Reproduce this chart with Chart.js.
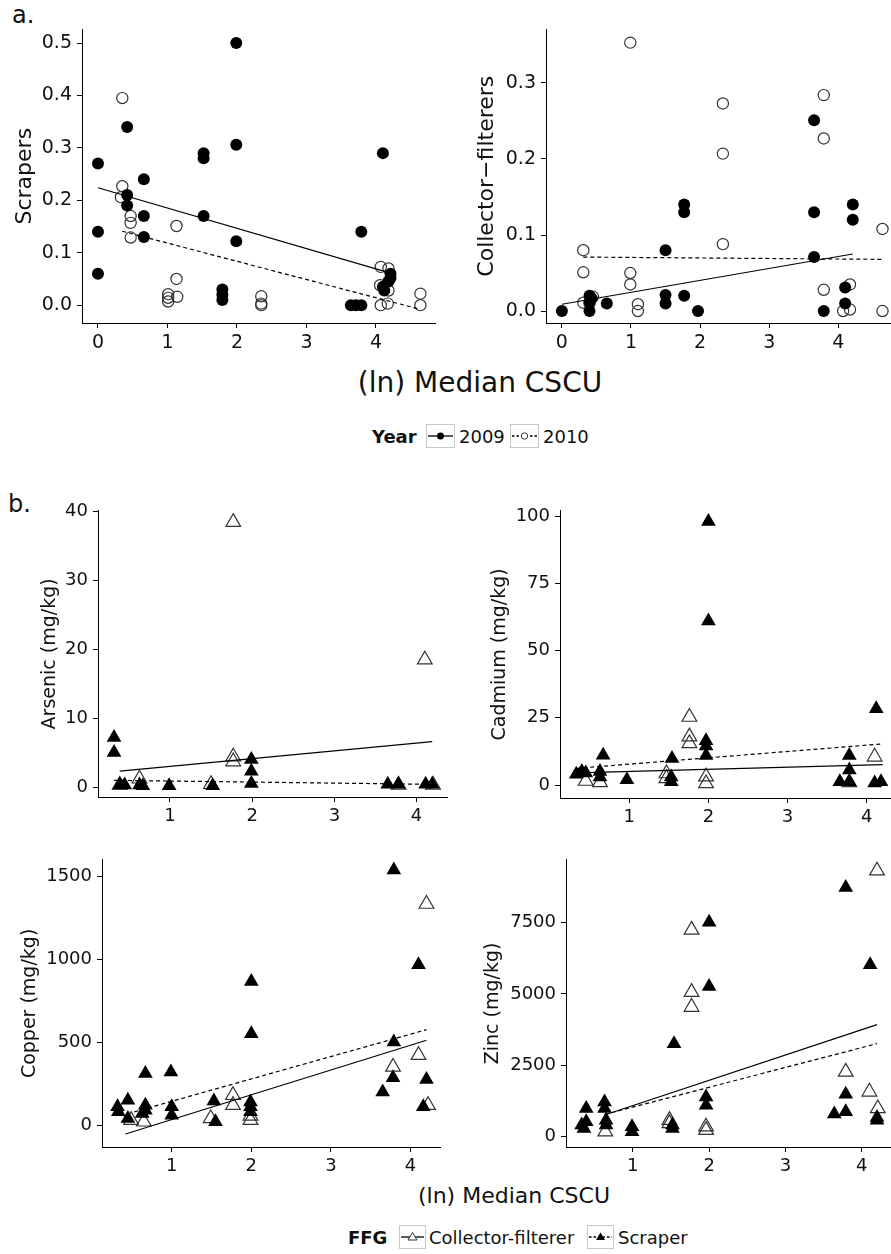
<!DOCTYPE html>
<html><head><meta charset="utf-8">
<script src="https://cdn.jsdelivr.net/npm/chart.js@4/dist/chart.umd.min.js"></script>
<style>
html,body{margin:0;padding:0;background:#fff;}
body{width:891px;height:1254px;position:relative;overflow:hidden;font-family:"DejaVu Sans",sans-serif;color:#111;}
.t{position:absolute;white-space:nowrap;line-height:1;}
.key{position:absolute;}
</style></head><body>
<div class="t" style="left:12px;top:3px;font-size:24px;">a.</div>
<div class="t" style="left:8px;top:492px;font-size:24px;">b.</div>
<div class="t" style="left:480px;top:383px;font-size:28px;transform:translate(-50%,-50%);">(ln) Median CSCU</div>
<div class="t" style="left:514px;top:1196px;font-size:22px;transform:translate(-50%,-50%);">(ln) Median CSCU</div>

<div class="t" style="left:372px;top:428px;font-size:18px;font-weight:bold;">Year</div>
<svg class="key" style="left:426px;top:424px" width="29" height="24"><rect x="0.5" y="0.5" width="28" height="23" fill="#fff" stroke="#c8c8c8"/><line x1="2" y1="12" x2="27" y2="12" stroke="#000" stroke-width="1.3"/><circle cx="14.5" cy="12" r="3.5" fill="#000"/></svg>
<div class="t" style="left:459px;top:428px;font-size:18px;">2009</div>
<svg class="key" style="left:510px;top:424px" width="29" height="24"><rect x="0.5" y="0.5" width="28" height="23" fill="#fff" stroke="#c8c8c8"/><line x1="2" y1="12" x2="27" y2="12" stroke="#000" stroke-width="1.3" stroke-dasharray="2.5,2"/><circle cx="14.5" cy="12" r="3.2" fill="#fff" stroke="#333" stroke-width="1"/></svg>
<div class="t" style="left:543px;top:428px;font-size:18px;">2010</div>

<div class="t" style="left:348px;top:1229px;font-size:18px;font-weight:bold;">FFG</div>
<svg class="key" style="left:399px;top:1225px" width="27" height="24"><rect x="0.5" y="0.5" width="26" height="23" fill="#fff" stroke="#c8c8c8"/><line x1="2" y1="12" x2="25" y2="12" stroke="#000" stroke-width="1.3"/><polygon points="13.5,7.5 18,15 9,15" fill="#fff" stroke="#333" stroke-width="1"/></svg>
<div class="t" style="left:429px;top:1229px;font-size:18px;">Collector-filterer</div>
<svg class="key" style="left:587px;top:1225px" width="27" height="24"><rect x="0.5" y="0.5" width="26" height="23" fill="#fff" stroke="#c8c8c8"/><line x1="2" y1="12" x2="25" y2="12" stroke="#000" stroke-width="1.3" stroke-dasharray="2.5,2"/><polygon points="13.5,7.5 18,15 9,15" fill="#000"/></svg>
<div class="t" style="left:618px;top:1229px;font-size:18px;">Scraper</div>

<script>
// ---------- Tick definitions ----------
const aXTicks = [0, 1, 2, 3, 4];
const aXLabels = ["0", "1", "2", "3", "4"];
const bXTicks = [1, 2, 3, 4];
const bXLabels = ["1", "2", "3", "4"];
const scrYTicks = [0, 0.1, 0.2, 0.3, 0.4, 0.5];
const scrYLabels = ["0.0", "0.1", "0.2", "0.3", "0.4", "0.5"];
const cfYTicks = [0, 0.1, 0.2, 0.3];
const cfYLabels = ["0.0", "0.1", "0.2", "0.3"];
const asYTicks = [0, 10, 20, 30, 40];
const cdYTicks = [0, 25, 50, 75, 100];
const cuYTicks = [0, 500, 1000, 1500];
const znYTicks = [0, 2500, 5000, 7500];

// ---------- Panel a: Scrapers ----------
const scr09x = [0,0,0, 0.42,0.42,0.42, 0.66,0.66,0.66, 1.52,1.52,1.52, 1.79,1.79,1.79, 1.99,1.99,1.99, 3.64,3.71,3.79, 3.79, 4.1,4.1,4.12, 4.21,4.21,4.18];
const scr09y = [0.27,0.14,0.06, 0.34,0.21,0.19, 0.24,0.17,0.13, 0.29,0.28,0.17, 0.03,0.02,0.01, 0.50,0.306,0.122, 0,0,0, 0.14, 0.29,0.035,0.028, 0.06,0.052,0.045];
const scr10x = [0.35,0.35,0.33, 0.47,0.47,0.47, 1.13,1.13,1.14, 1.01,1.01,1.01, 2.35,2.35,2.35, 4.07,4.18,4.06,4.18,4.07,4.17, 4.64,4.64];
const scr10y = [0.395,0.227,0.206, 0.17,0.157,0.129, 0.151,0.05,0.016, 0.021,0.014,0.007, 0.017,0.003,0, 0.073,0.07,0.038,0.028,0,0.003, 0.022,0];
const scrFit09x = [0, 4.21], scrFit09y = [0.224, 0.061];
const scrFit10x = [0.35, 4.64], scrFit10y = [0.141, -0.008];

// ---------- Panel a: Collector-filterers ----------
const cf09x = [0, 0.4,0.4,0.4,0.43, 0.65, 1.5,1.5,1.5, 1.77,1.77,1.77, 1.97, 3.65,3.65,3.65, 3.79, 4.1,4.1, 4.21,4.21];
const cf09y = [0, 0.02,0.012,0,0.017, 0.01, 0.08,0.021,0.01, 0.14,0.13,0.02, 0, 0.251,0.13,0.071, 0, 0.031,0.01, 0.14,0.12];
const cf10x = [0.31,0.31,0.31, 0.45,0.4, 0.99,0.99,0.99, 1.1,1.1, 2.33,2.33,2.33, 3.79,3.79,3.79, 4.07, 4.17,4.17, 4.64,4.64];
const cf10y = [0.08,0.051,0.011, 0.019,0.01, 0.353,0.05,0.035, 0.009,0, 0.273,0.207,0.088, 0.284,0.227,0.028, 0, 0.035,0.002, 0.108,0];
const cfFit09x = [0, 4.21], cfFit09y = [0.009, 0.075];
const cfFit10x = [0.31, 4.64], cfFit10y = [0.071, 0.068];

// ---------- Panel b: Arsenic ----------
const asScrX = [0.32,0.32, 0.39,0.45, 0.63,0.67, 0.99, 1.52, 1.99,1.99,1.99, 3.65, 3.78, 4.11, 4.19];
const asScrY = [7.2,5.0, 0.3,0.3, 0.3,0.2, 0.2, 0.2, 4.0,2.3,0.5, 0.4, 0.4, 0.4, 0.4];
const asCfX = [1.77, 4.1, 1.77,1.77, 0.63, 1.5, 0.39, 3.78, 4.2];
const asCfY = [38.5, 18.5, 4.4,3.7, 1.2, 0.4, 0.3, 0.3, 0.3];
const asFitCfX = [0.39, 4.19], asFitCfY = [2.3, 6.6];
const asFitScrX = [0.32, 4.19], asFitScrY = [0.97, 0.39];

// ---------- Panel b: Cadmium ----------
const cdScrX = [2.0, 2.0, 4.12, 0.67, 1.54, 1.97,1.97,1.97, 3.78,3.78,3.78, 3.66, 4.18, 0.33,0.4,0.45, 0.63,0.63, 0.97, 1.53,1.53, 4.1];
const cdScrY = [98, 61, 28.4, 11.1, 9.9, 16.5,14.5,11, 11,5.6,1.2, 1.2, 1.2, 4,5,4.5, 5,3, 2, 3,1.2, 0.8];
const cdCfX = [1.76,1.76,1.76, 4.1, 1.47,1.47, 1.97,1.97, 0.45, 0.63, 3.78];
const cdCfY = [25.3,18,15.5, 10.5, 4.3,2.5, 3.1,0.6, 1.5, 1.0, 1.0];
const cdFitCfX = [0.33, 4.2], cdFitCfY = [4.5, 7.6];
const cdFitScrX = [0.33, 4.2], cdFitScrY = [6.2, 15.3];

// ---------- Panel b: Copper ----------
const cuScrX = [3.79, 4.1, 2.0, 2.0, 3.79, 0.67, 0.99, 3.65, 3.78, 4.2, 4.16, 1.53, 1.55, 1.99, 1.99, 1.99, 1.0, 1.0, 0.67, 0.67, 0.45, 0.32, 0.33, 0.45, 0.63];
const cuScrY = [1540, 968, 867, 552, 502, 311, 321, 200, 285, 275, 110, 145, 20, 140, 110, 80, 110, 60, 120, 90, 150, 110, 80, 40, 70];
const cuCfX = [4.2, 4.1, 3.78, 4.22, 1.77, 1.77, 1.49, 1.99, 1.99, 0.65, 0.49];
const cuCfY = [1335, 422, 351, 120, 180, 120, 40, 30, 55, 20, 30];
const cuFitCfX = [0.42, 4.2], cuFitCfY = [-54, 512];
const cuFitScrX = [0.53, 4.2], cuFitScrY = [80, 576];

// ---------- Panel b: Zinc ----------
const znScrX = [3.79, 2.0, 2.0, 4.11, 1.54, 3.79, 3.64, 3.79, 4.2, 4.2, 1.96, 1.96, 1.52, 1.52, 0.99, 0.99, 0.63, 0.63, 0.65, 0.65, 0.39, 0.39, 0.33, 0.36];
const znScrY = [8735, 7510, 5260, 6020, 3257, 1485, 787, 868, 670, 575, 1390, 1100, 285, 400, 340, 170, 1215, 985, 575, 400, 985, 520, 400, 285];
const znCfX = [4.2, 1.77, 1.77, 1.77, 3.79, 4.1, 4.21, 1.48, 1.48, 1.96, 1.96, 0.64];
const znCfY = [9320, 7245, 5065, 4540, 2267, 1568, 985, 577, 460, 344, 225, 170];
const znFitCfX = [0.63, 4.2], znFitCfY = [754, 3922];
const znFitScrX = [0.63, 4.2], znFitScrY = [773, 3258];

// ---------- helpers ----------
const FONT = '"DejaVu Sans", "Liberation Sans", sans-serif';
const TXT = '#111';
const zip = (xs, ys) => xs.map((x, i) => ({x: x, y: ys[i]}));

function lineDs(xs, ys, dashed) {
  return {data: zip(xs, ys), showLine: true, borderColor: '#000', borderWidth: 1.2,
    borderDash: dashed ? [4, 3] : [], pointRadius: 0, fill: false, tension: 0};
}
function ptDs(xs, ys, style, filled, r) {
  return {data: zip(xs, ys), showLine: false, pointStyle: style, pointRadius: r, pointHoverRadius: r,
    backgroundColor: filled ? '#000' : 'rgba(0,0,0,0)', borderColor: filled ? '#000' : '#333',
    borderWidth: filled ? 0 : 1.2};
}

function panel(o) {
  const padTop = 15, padRight = 12, Wx = 35;
  const left = o.L - o.Wy, top = o.T - padTop;
  const w = o.R - left + padRight, h = o.B + Wx - top;
  const cv = document.createElement('canvas');
  cv.width = w; cv.height = h;
  cv.style.cssText = 'position:absolute;left:' + left + 'px;top:' + top + 'px;width:' + w + 'px;height:' + h + 'px;';
  document.body.appendChild(cv);
  const grid = {display: true, drawOnChartArea: false, drawTicks: true, tickLength: 5, color: '#000', tickColor: '#000', lineWidth: 1};
  new Chart(cv.getContext('2d'), {
    type: 'scatter',
    data: {datasets: o.datasets},
    options: {
      responsive: false, animation: false, devicePixelRatio: 1,
      layout: {padding: {top: padTop, right: padRight, left: 0, bottom: 0}},
      plugins: {legend: {display: false}, tooltip: {enabled: false}},
      scales: {
        x: {type: 'linear', position: 'bottom', min: o.xMin, max: o.xMax,
          afterBuildTicks: s => { s.ticks = o.xTicks.map(v => ({value: v})); },
          afterFit: s => { s.height = Wx; },
          ticks: {autoSkip: false, maxRotation: 0, padding: 4, color: TXT, font: {family: FONT, size: o.tickSize},
            callback: (v, i) => o.xLabels[i]},
          grid: grid, border: {display: true, color: '#000', width: 1}},
        y: {type: 'linear', position: 'left', min: o.yMin, max: o.yMax,
          afterBuildTicks: s => { s.ticks = o.yTicks.map(v => ({value: v})); },
          afterFit: s => { s.width = o.Wy; },
          ticks: {autoSkip: false, padding: 5, color: TXT, font: {family: FONT, size: o.tickSize},
            callback: (v, i) => o.yLabels[i]},
          title: {display: true, text: o.title, color: TXT, font: {family: FONT, size: o.titleSize, lineHeight: 1.2},
            padding: {top: o.titlePad, bottom: 0}},
          grid: grid, border: {display: true, color: '#000', width: 1}}
      }
    }
  });
}

// ---------- Panel a ----------
panel({L: 82, R: 435, T: 28, B: 323, Wy: 82, xMin: -0.23, xMax: 4.85, yMin: -0.034, yMax: 0.526,
  xTicks: aXTicks, xLabels: aXLabels, yTicks: scrYTicks, yLabels: scrYLabels,
  title: 'Scrapers', titleSize: 22, titlePad: 11.8, tickSize: 19,
  datasets: [lineDs(scrFit09x, scrFit09y, false), lineDs(scrFit10x, scrFit10y, true),
    ptDs(scr09x, scr09y, 'circle', true, 6), ptDs(scr10x, scr10y, 'circle', false, 5.6)]});

panel({L: 546, R: 897, T: 28, B: 323, Wy: 100, xMin: -0.23, xMax: 4.85, yMin: -0.0157, yMax: 0.3704,
  xTicks: aXTicks, xLabels: aXLabels, yTicks: cfYTicks, yLabels: cfYLabels,
  title: 'Collector\u2212filterers', titleSize: 22, titlePad: 27.8, tickSize: 19,
  datasets: [lineDs(cfFit09x, cfFit09y, false), lineDs(cfFit10x, cfFit10y, true),
    ptDs(cf09x, cf09y, 'circle', true, 6), ptDs(cf10x, cf10y, 'circle', false, 5.6)]});

// ---------- Panel b ----------
panel({L: 98, R: 447, T: 510, B: 797, Wy: 98, xMin: 0.125, xMax: 4.37, yMin: -1.45, yMax: 40.14,
  xTicks: bXTicks, xLabels: bXLabels, yTicks: asYTicks, yLabels: asYTicks.map(String),
  title: 'Arsenic (mg/kg)', titleSize: 19, titlePad: 38.6, tickSize: 18,
  datasets: [lineDs(asFitCfX, asFitCfY, false), lineDs(asFitScrX, asFitScrY, true),
    ptDs(asScrX, asScrY, 'triangle', true, 8.5), ptDs(asCfX, asCfY, 'triangle', false, 8.5)]});

panel({L: 560, R: 896, T: 510, B: 798, Wy: 110, xMin: 0.125, xMax: 4.37, yMin: -4.82, yMax: 102.0,
  xTicks: bXTicks, xLabels: bXLabels, yTicks: cdYTicks, yLabels: cdYTicks.map(String),
  title: 'Cadmium (mg/kg)', titleSize: 19, titlePad: 38.6, tickSize: 18,
  datasets: [lineDs(cdFitCfX, cdFitCfY, false), lineDs(cdFitScrX, cdFitScrY, true),
    ptDs(cdScrX, cdScrY, 'triangle', true, 8.5), ptDs(cdCfX, cdCfY, 'triangle', false, 8.5)]});

panel({L: 102, R: 440, T: 859, B: 1147, Wy: 102, xMin: 0.125, xMax: 4.37, yMin: -132.5, yMax: 1602,
  xTicks: bXTicks, xLabels: bXLabels, yTicks: cuYTicks, yLabels: cuYTicks.map(String),
  title: 'Copper (mg/kg)', titleSize: 19, titlePad: 18.6, tickSize: 18,
  datasets: [lineDs(cuFitCfX, cuFitCfY, false), lineDs(cuFitScrX, cuFitScrY, true),
    ptDs(cuScrX, cuScrY, 'triangle', true, 8.5), ptDs(cuCfX, cuCfY, 'triangle', false, 8.5)]});

panel({L: 566, R: 890, T: 859, B: 1147, Wy: 110, xMin: 0.125, xMax: 4.37, yMin: -367, yMax: 9703,
  xTicks: bXTicks, xLabels: bXLabels, yTicks: znYTicks, yLabels: znYTicks.map(String),
  title: 'Zinc (mg/kg)', titleSize: 19, titlePad: 25.6, tickSize: 18,
  datasets: [lineDs(znFitCfX, znFitCfY, false), lineDs(znFitScrX, znFitScrY, true),
    ptDs(znScrX, znScrY, 'triangle', true, 8.5), ptDs(znCfX, znCfY, 'triangle', false, 8.5)]});
</script>
</body></html>
